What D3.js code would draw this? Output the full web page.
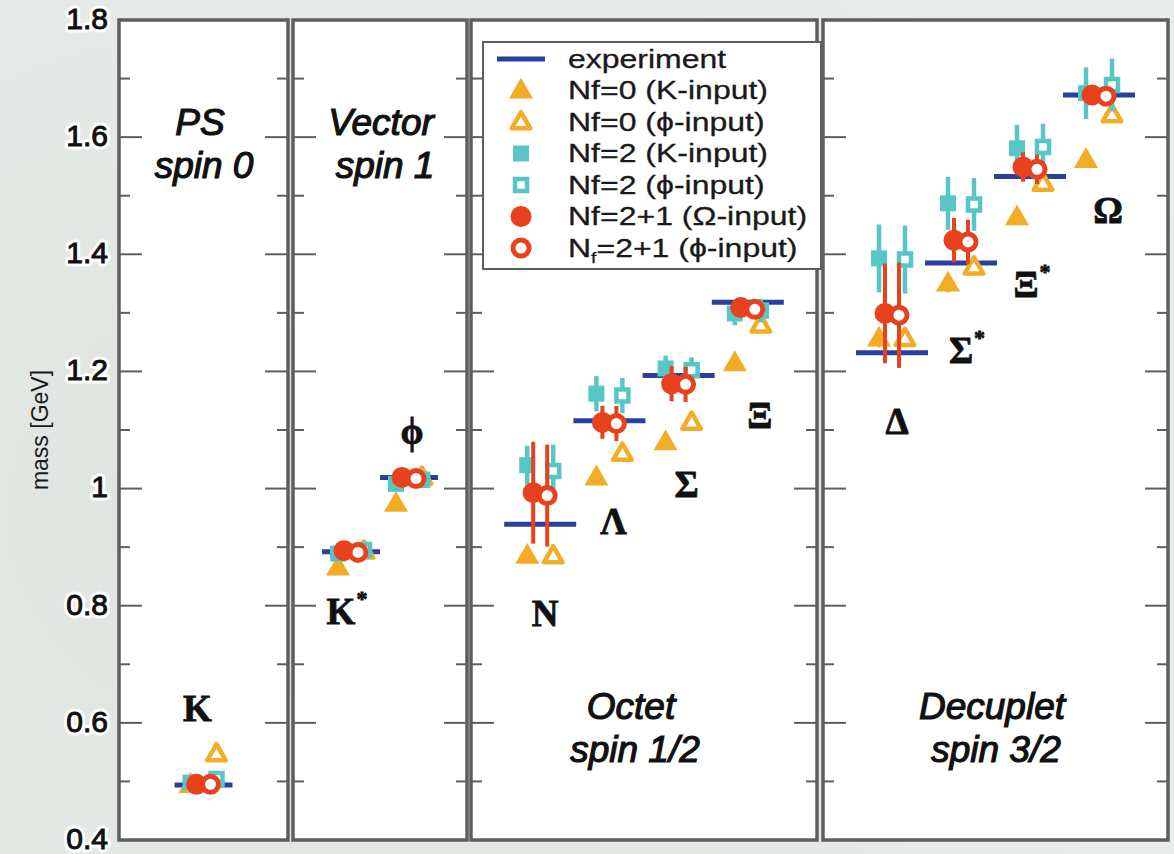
<!DOCTYPE html>
<html>
<head>
<meta charset="utf-8">
<script src="https://cdn.jsdelivr.net/npm/d3@7.9.0/dist/d3.min.js"></script>
<style>
  html, body { margin: 0; padding: 0; background: #e3e8e5; }
  svg { display: block; }
</style>
</head>
<body>
<svg id="chart" width="1174" height="854"></svg>
<script>
// hadron spectrum: lattice QCD vs experiment
const particles = ['K', 'K*', 'ϕ', 'N', 'Λ', 'Σ', 'Ξ', 'Δ', 'Σ*', 'Ξ*', 'Ω'];
const particlePanel = [0, 1, 1, 2, 2, 2, 2, 3, 3, 3, 3];
const particleSlot = [1, 1, 2, 1, 2, 3, 4, 1, 2, 3, 4];

const experiment = [0.494, 0.892, 1.019, 0.939, 1.116, 1.193, 1.318, 1.232, 1.385, 1.533, 1.672];

const nf0K = [0.494, 0.865, 0.974, 0.885, 1.019, 1.079, 1.214, 1.256, 1.350, 1.463, 1.561];
const nf0Phi = [0.547, 0.893, 1.019, 0.885, 1.060, 1.113, 1.279, 1.256, 1.378, 1.521, 1.638];
const nf0Err = [0.010, 0.010, 0.010, 0.012, 0.012, 0.012, 0.012, 0.015, 0.015, 0.012, 0.012];

const nf2K = [0.498, 0.889, 1.008, 1.040, 1.162, 1.205, 1.299, 1.393, 1.487, 1.581, 1.675];
const nf2KErr = [0.008, 0.012, 0.010, 0.033, 0.030, 0.022, 0.020, 0.058, 0.045, 0.040, 0.044];
const nf2Phi = [0.504, 0.895, 1.015, 1.030, 1.159, 1.202, 1.304, 1.391, 1.485, 1.583, 1.689];
const nf2PhiErr = [0.008, 0.012, 0.010, 0.045, 0.030, 0.022, 0.020, 0.058, 0.045, 0.040, 0.045];

const nf21Omega = [0.495, 0.894, 1.019, 0.993, 1.113, 1.179, 1.309, 1.299, 1.424, 1.549, 1.672];
const nf21OmegaErr = [0.005, 0.008, 0.008, 0.087, 0.028, 0.030, 0.012, 0.085, 0.038, 0.025, 0.0];
const nf21Phi = [0.495, 0.891, 1.017, 0.988, 1.111, 1.178, 1.306, 1.296, 1.421, 1.545, 1.670];
const nf21PhiErr = [0.005, 0.008, 0.008, 0.087, 0.030, 0.030, 0.012, 0.090, 0.038, 0.025, 0.010];

const panelTitles = [['PS', 'spin 0'], ['Vector', 'spin 1'], ['Octet', 'spin 1/2'], ['Decuplet', 'spin 3/2']];
const panelSlots = [2, 3, 5, 5];

const yTicks = [0.4, 0.6, 0.8, 1.0, 1.2, 1.4, 1.6, 1.8];
const yMinorTicks = [0.5, 0.7, 0.9, 1.1, 1.3, 1.5, 1.7];

const legendLabels = [
  'experiment',
  'Nf=0 (K-input)',
  'Nf=0 (ϕ-input)',
  'Nf=2 (K-input)',
  'Nf=2 (ϕ-input)',
  'Nf=2+1 (Ω-input)',
  'Nf=2+1 (ϕ-input)',
];

// label anchors (mass at which each particle name sits)
const labelMass = [0.626, 0.791, 1.099, 0.788, 0.945, 1.008, 1.125, 1.116, 1.236, 1.350, 1.475];

// ---- layout ----
const panelPx = [[119, 288], [293, 467], [471, 817], [823, 1168]];
const labelDx = [-6, -4, 3, 5, 4, 8, 12, 5, 6, 2, 9];
const expHalf = [29, 29, 36, 36];
const titlePos = [[200, 135], [381, 135], [631, 719], [992, 719]];

const ORANGE = '#f3ac26';
const CYAN = '#58c6c6';
const RED = '#e8411e';
const BLUE = '#2b3f9c';
const FRAME = '#5e5e5e';

const svg = d3.select('#chart');
const y = d3.scaleLinear().domain([0.4, 1.8]).range([840, 20]);
const xScales = panelPx.map((px, i) => d3.scaleLinear().domain([0, panelSlots[i]]).range(px));
const xOf = (i) => xScales[particlePanel[i]](particleSlot[i]);

// soft background
const defs = svg.append('defs');
const grad = defs.append('radialGradient').attr('id', 'bg').attr('cx', '30%').attr('cy', '60%').attr('r', '80%');
grad.append('stop').attr('offset', '0%').attr('stop-color', '#dde3df');
grad.append('stop').attr('offset', '100%').attr('stop-color', '#e8ecea');
svg.append('rect').attr('width', 1174).attr('height', 854).attr('fill', 'url(#bg)');

// panels
panelPx.forEach(([x0, x1]) => {
  svg.append('rect')
    .attr('x', x0).attr('y', y(1.8))
    .attr('width', x1 - x0).attr('height', y(0.4) - y(1.8))
    .attr('fill', '#fff');
});

const ticks = svg.append('g').attr('stroke', FRAME).attr('stroke-width', 2);
panelPx.forEach(([x0, x1]) => {
  yTicks.forEach((t) => {
    ticks.append('line').attr('x1', x0).attr('x2', x0 + 23).attr('y1', y(t)).attr('y2', y(t));
    ticks.append('line').attr('x1', x1).attr('x2', x1 - 23).attr('y1', y(t)).attr('y2', y(t));
  });
  yMinorTicks.forEach((t) => {
    ticks.append('line').attr('x1', x0).attr('x2', x0 + 11).attr('y1', y(t)).attr('y2', y(t));
    ticks.append('line').attr('x1', x1).attr('x2', x1 - 11).attr('y1', y(t)).attr('y2', y(t));
  });
});

panelPx.forEach(([x0, x1]) => {
  svg.append('rect')
    .attr('x', x0).attr('y', y(1.8))
    .attr('width', x1 - x0).attr('height', y(0.4) - y(1.8))
    .attr('fill', 'none').attr('stroke', FRAME).attr('stroke-width', 3.5);
});

// y tick labels: white halo underneath, heavy dark text on top
const fmt = d3.format('~g');
const tickLabels = svg.append('g')
  .attr('font-family', 'Liberation Sans, Arial, sans-serif')
  .attr('font-size', 30)
  .attr('text-anchor', 'end');
tickLabels.selectAll('text.halo').data(yTicks).join('text')
  .attr('class', 'halo')
  .attr('x', 108).attr('y', (d) => y(d) - 2).attr('dy', '0.36em')
  .attr('fill', '#fff').attr('stroke', '#fff').attr('stroke-width', 7).attr('stroke-linejoin', 'round')
  .text(fmt);
tickLabels.selectAll('text.lbl').data(yTicks).join('text')
  .attr('class', 'lbl')
  .attr('x', 108).attr('y', (d) => y(d) - 2).attr('dy', '0.36em')
  .attr('fill', '#111').attr('stroke', '#111').attr('stroke-width', 1)
  .text(fmt);

svg.append('text')
  .attr('transform', `translate(48,${y(1.1)}) rotate(-90)`)
  .attr('text-anchor', 'middle')
  .attr('font-family', 'Liberation Sans, Arial, sans-serif')
  .attr('font-size', 23)
  .attr('fill', '#1a1a1a')
  .text('mass [GeV]');

// panel titles
panelTitles.forEach(([a, b], i) => {
  const [tx, ty] = titlePos[i];
  const t = svg.append('text')
    .attr('font-family', 'Liberation Sans, Arial, sans-serif')
    .attr('font-style', 'italic')
    .attr('font-size', 37)
    .attr('fill', '#111').attr('stroke', '#111').attr('stroke-width', 1.2)
    .attr('text-anchor', 'middle');
  t.append('tspan').attr('x', tx).attr('y', ty).text(a);
  t.append('tspan').attr('x', tx + 4).attr('y', ty + 43).text(b);
});

// particle names
particles.forEach((p, i) => {
  const t = svg.append('text')
    .attr('x', xOf(i) + labelDx[i]).attr('y', y(labelMass[i]))
    .attr('dy', '0.35em')
    .attr('text-anchor', 'middle')
    .attr('font-family', 'Liberation Serif, Times New Roman, serif')
    .attr('font-weight', 'bold')
    .attr('font-size', 37)
    .attr('fill', '#111').attr('stroke', '#111').attr('stroke-width', 0.8);
  t.append('tspan').text(p.replace('*', ''));
  if (p.includes('*')) {
    t.append('tspan').attr('font-size', 22).attr('dx', 1).attr('dy', -18).text('*');
  }
});

// experiment bars
svg.append('g').selectAll('line').data(experiment).join('line')
  .attr('x1', (d, i) => xOf(i) - expHalf[particlePanel[i]])
  .attr('x2', (d, i) => xOf(i) + expHalf[particlePanel[i]])
  .attr('y1', (d) => y(d)).attr('y2', (d) => y(d))
  .attr('stroke', BLUE).attr('stroke-width', 5);

const triFilled = d3.symbol(d3.symbolTriangle, 250)();
const triOpen = d3.symbol(d3.symbolTriangle, 150)();
const sqFilled = d3.symbol(d3.symbolSquare, 256)();
const sqOpen = d3.symbol(d3.symbolSquare, 144)();

function drawSeries(values, errors, dx, color, barWidth, drawMarker) {
  const g = svg.append('g');
  values.forEach((v, i) => {
    const cx = xOf(i) + dx;
    if (errors[i] > 0) {
      g.append('line')
        .attr('x1', cx).attr('x2', cx)
        .attr('y1', y(v - errors[i])).attr('y2', y(v + errors[i]))
        .attr('stroke', color).attr('stroke-width', barWidth);
    }
    drawMarker(g, cx, y(v));
  });
}

drawSeries(nf0K, nf0Err, -13, ORANGE, 3.5, (g, cx, cy) =>
  g.append('path').attr('d', triFilled).attr('transform', `translate(${cx},${cy + 1})`).attr('fill', ORANGE));
drawSeries(nf0Phi, nf0Err, 13, ORANGE, 3.5, (g, cx, cy) =>
  g.append('path').attr('d', triOpen).attr('transform', `translate(${cx},${cy + 1})`)
    .attr('fill', '#fff').attr('stroke', ORANGE).attr('stroke-width', 4.5).attr('stroke-linejoin', 'round'));
drawSeries(nf2K, nf2KErr, -13, CYAN, 4.5, (g, cx, cy) =>
  g.append('path').attr('d', sqFilled).attr('transform', `translate(${cx},${cy})`).attr('fill', CYAN));
drawSeries(nf2Phi, nf2PhiErr, 13, CYAN, 4.5, (g, cx, cy) =>
  g.append('path').attr('d', sqOpen).attr('transform', `translate(${cx},${cy})`)
    .attr('fill', '#fff').attr('stroke', CYAN).attr('stroke-width', 4.5));
drawSeries(nf21Omega, nf21OmegaErr, -7, RED, 4, (g, cx, cy) =>
  g.append('circle').attr('cx', cx).attr('cy', cy).attr('r', 10.5).attr('fill', RED));
drawSeries(nf21Phi, nf21PhiErr, 7, RED, 4, (g, cx, cy) =>
  g.append('circle').attr('cx', cx).attr('cy', cy).attr('r', 8)
    .attr('fill', '#fff').attr('stroke', RED).attr('stroke-width', 5));

// legend
const legend = svg.append('g');
legend.append('rect')
  .attr('x', 483).attr('y', 42).attr('width', 338).attr('height', 227)
  .attr('fill', '#fff').attr('stroke', FRAME).attr('stroke-width', 2);

const rowY = d3.scaleLinear().domain([0, legendLabels.length - 1]).range([59, 248]);
const symX = 521;
legend.append('line').attr('x1', 497).attr('x2', 545).attr('y1', rowY(0)).attr('y2', rowY(0))
  .attr('stroke', BLUE).attr('stroke-width', 5);
legend.append('path').attr('d', triFilled).attr('transform', `translate(${symX},${rowY(1) + 1})`).attr('fill', ORANGE);
legend.append('path').attr('d', triOpen).attr('transform', `translate(${symX},${rowY(2) + 1})`)
  .attr('fill', '#fff').attr('stroke', ORANGE).attr('stroke-width', 4.5).attr('stroke-linejoin', 'round');
legend.append('path').attr('d', sqFilled).attr('transform', `translate(${symX},${rowY(3)})`).attr('fill', CYAN);
legend.append('path').attr('d', sqOpen).attr('transform', `translate(${symX},${rowY(4)})`)
  .attr('fill', '#fff').attr('stroke', CYAN).attr('stroke-width', 4.5);
legend.append('circle').attr('cx', symX).attr('cy', rowY(5)).attr('r', 10.5).attr('fill', RED);
legend.append('circle').attr('cx', symX).attr('cy', rowY(6)).attr('r', 8)
  .attr('fill', '#fff').attr('stroke', RED).attr('stroke-width', 5);

legendLabels.forEach((label, i) => {
  const t = legend.append('text')
    .attr('transform', `translate(568,${rowY(i)}) scale(1.28,1)`)
    .attr('dy', '0.35em')
    .attr('font-family', 'Liberation Sans, Arial, sans-serif')
    .attr('font-size', 25)
    .attr('fill', '#1a1a1a').attr('stroke', '#1a1a1a').attr('stroke-width', 0.3);
  if (i === legendLabels.length - 1) {
    t.append('tspan').text('N');
    t.append('tspan').attr('font-size', 15).attr('dy', 6).text('f');
    t.append('tspan').attr('dy', -6).text(label.slice(2));
  } else {
    t.text(label);
  }
});
</script>
</body>
</html>
